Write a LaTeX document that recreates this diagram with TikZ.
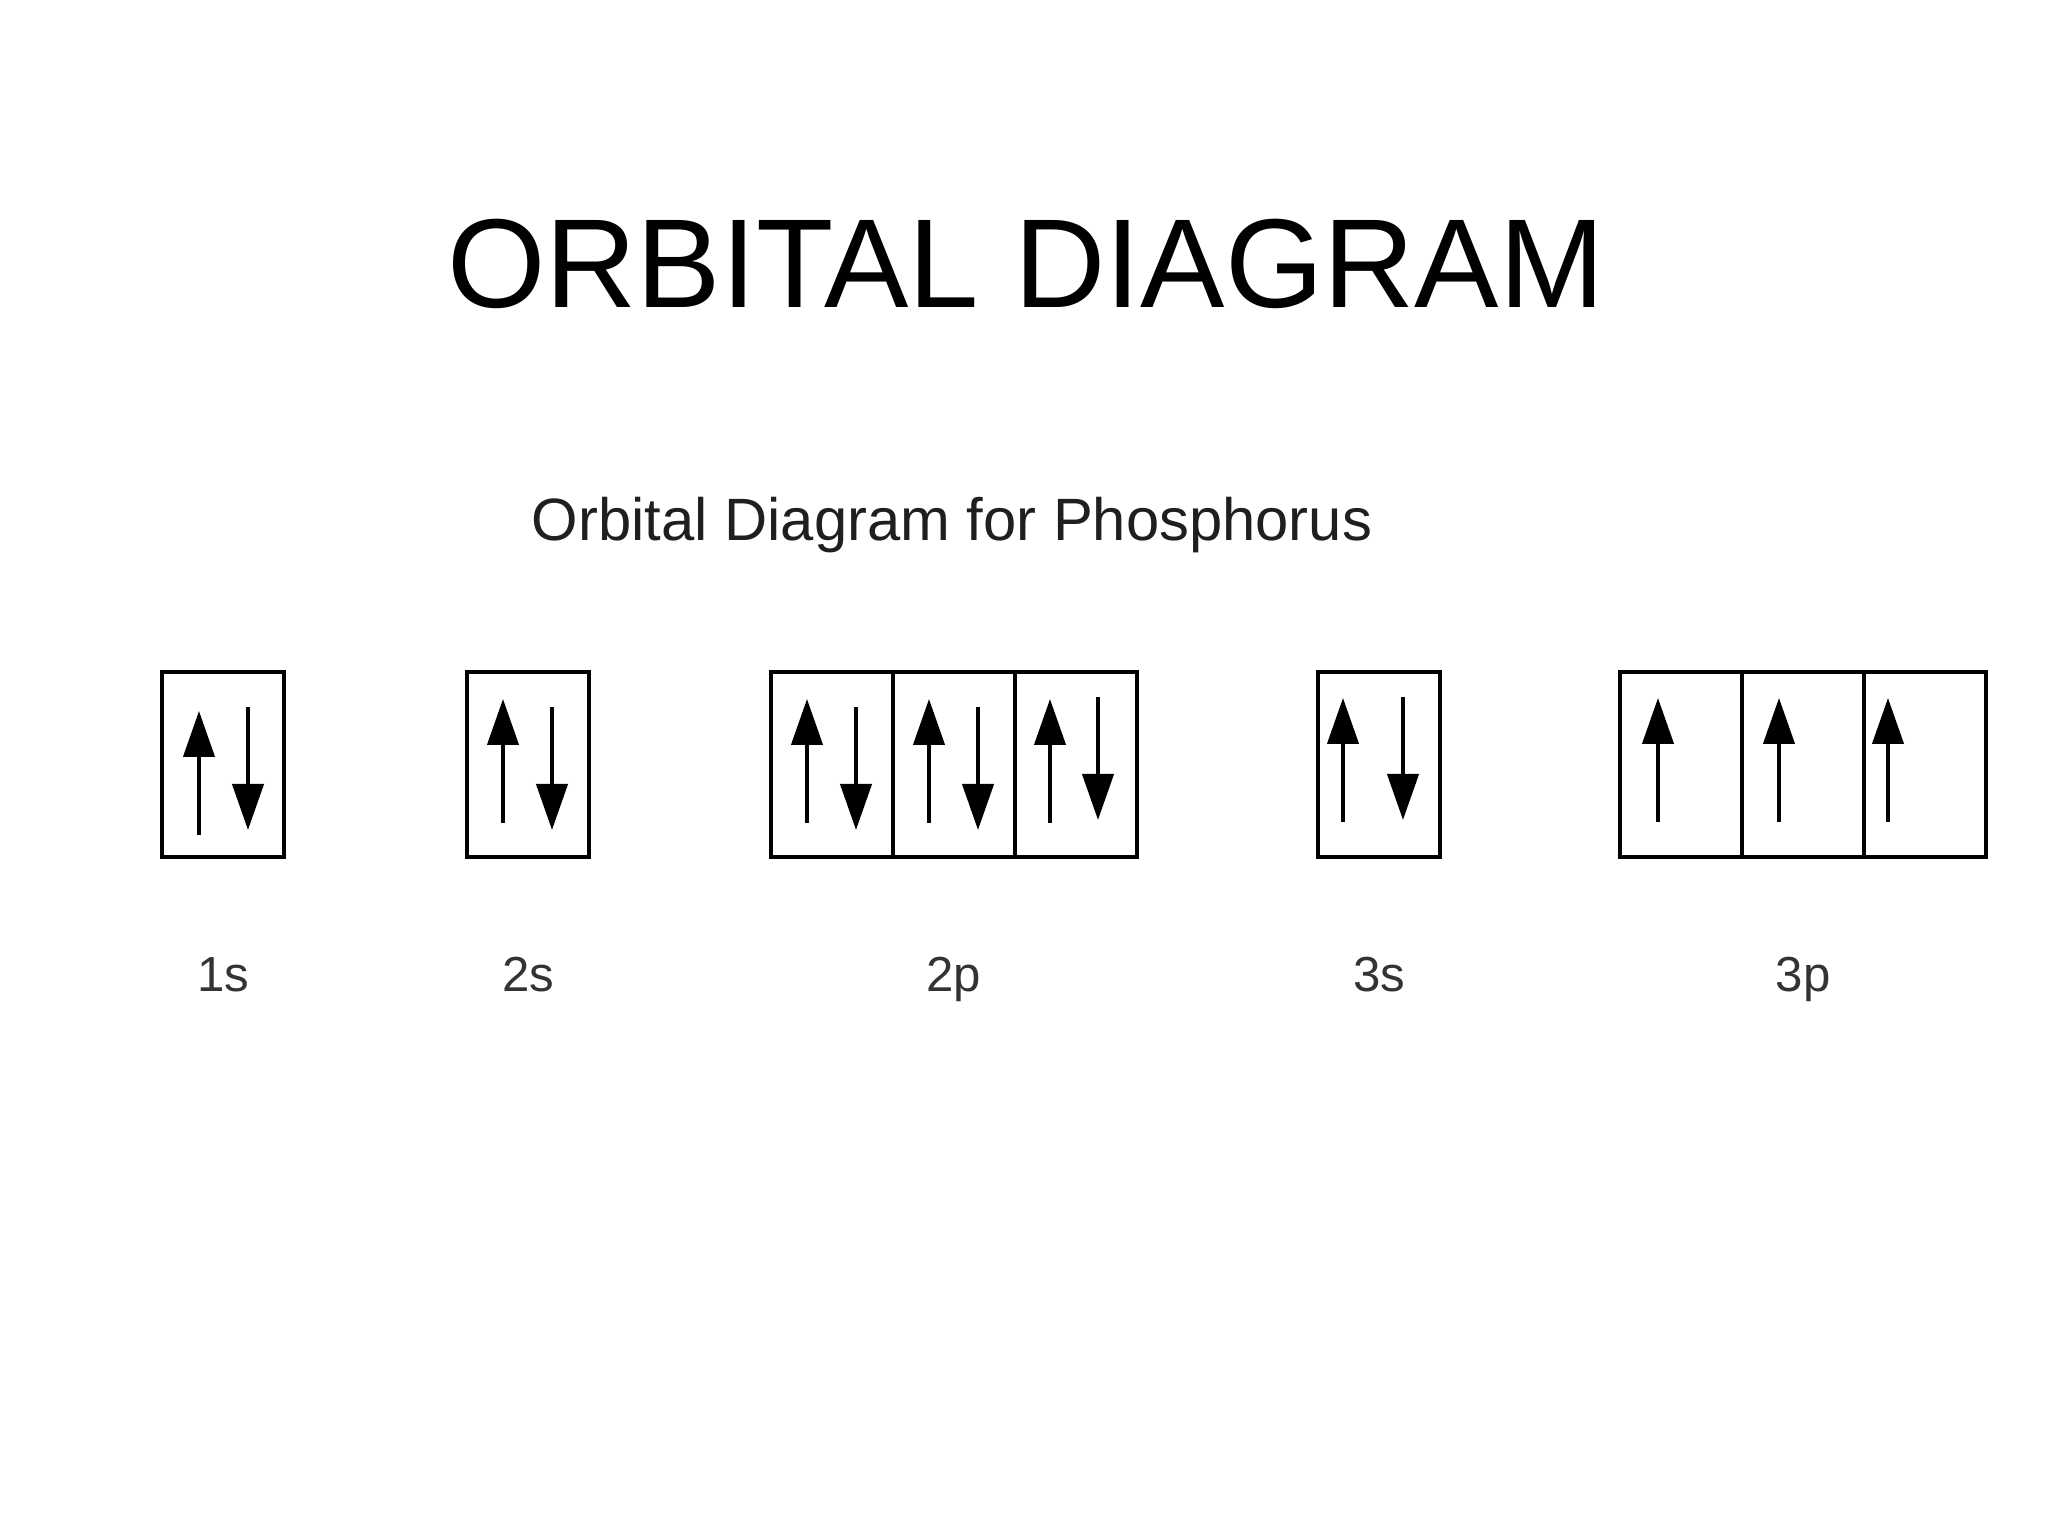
\documentclass[tikz,border=0pt]{standalone}
\usepackage{fontspec}
\setmainfont{Liberation Sans}
\usetikzlibrary{arrows.meta,positioning,calc}
\tikzset{
	orbital/.style={draw, line width=1.1pt, minimum width=1.22cm, minimum height=1.85cm, inner sep=0pt, outer sep=0pt},
	spinup/.style={line width=1.2pt, -{Triangle[width=3.1mm,length=4.6mm]}},
	sublabel/.style={font=\fontsize{14}{16}\selectfont, text=black!80, anchor=base, inner sep=0pt}
}

\begin{document}
\begin{tikzpicture}
	\useasboundingbox (0,0) rectangle (20.48,15.36);
	\node[font=\fontsize{36}{40}\selectfont, anchor=base, inner sep=0pt] (title) at (10.26, 12.28) {ORBITAL DIAGRAM};
	\node[font=\fontsize{17}{20}\selectfont, text=black!88, anchor=base, inner sep=0pt] (subtitle) at (9.52, 9.95) {Orbital Diagram for Phosphorus};
	% boxes
	\node[orbital, anchor=south west] (s1) at (1.62, 6.79) {};
	\node[orbital, right=1.83cm of s1] (s2) {};
	\node[orbital, right=1.82cm of s2] (pa) {};
	\node[orbital, right=0cm of pa] (pb) {};
	\node[orbital, right=0cm of pb] (pc) {};
	\node[orbital, right=1.81cm of pc] (s3) {};
	\node[orbital, right=1.80cm of s3] (qa) {};
	\node[orbital, right=0cm of qa] (qb) {};
	\node[orbital, right=0cm of qb] (qc) {};
	% paired electrons
	\foreach \c/\u/\uy/\d/\dy in {s1/0.37/0.22/0.86/1.50, s2/0.36/0.34/0.85/1.50, pa/0.36/0.34/0.85/1.50, pb/0.36/0.34/0.85/1.50, pc/0.35/0.34/0.83/1.60, s3/0.25/0.35/0.85/1.60}{
		\draw[spinup] ($(\c.south west)+(\u,\uy)$) -- ++(0,1.24);
		\draw[spinup] ($(\c.south west)+(\d,\dy)$) -- ++(0,-1.23);
	}
	% unpaired electrons
	\foreach \c/\u in {qa/0.38, qb/0.37, qc/0.24}{
		\draw[spinup] ($(\c.south west)+(\u,0.35)$) -- ++(0,1.24);
	}
	% labels
	\coordinate (lab) at (0, 5.44);
	\node[sublabel] (l1s) at (s1 |- lab) {1s};
	\node[sublabel] (l2s) at (s2 |- lab) {2s};
	\node[sublabel] (l2p) at (pb |- lab) {2p};
	\node[sublabel] (l3s) at (s3 |- lab) {3s};
	\node[sublabel] (l3p) at (qb |- lab) {3p};
\end{tikzpicture}
\end{document}
